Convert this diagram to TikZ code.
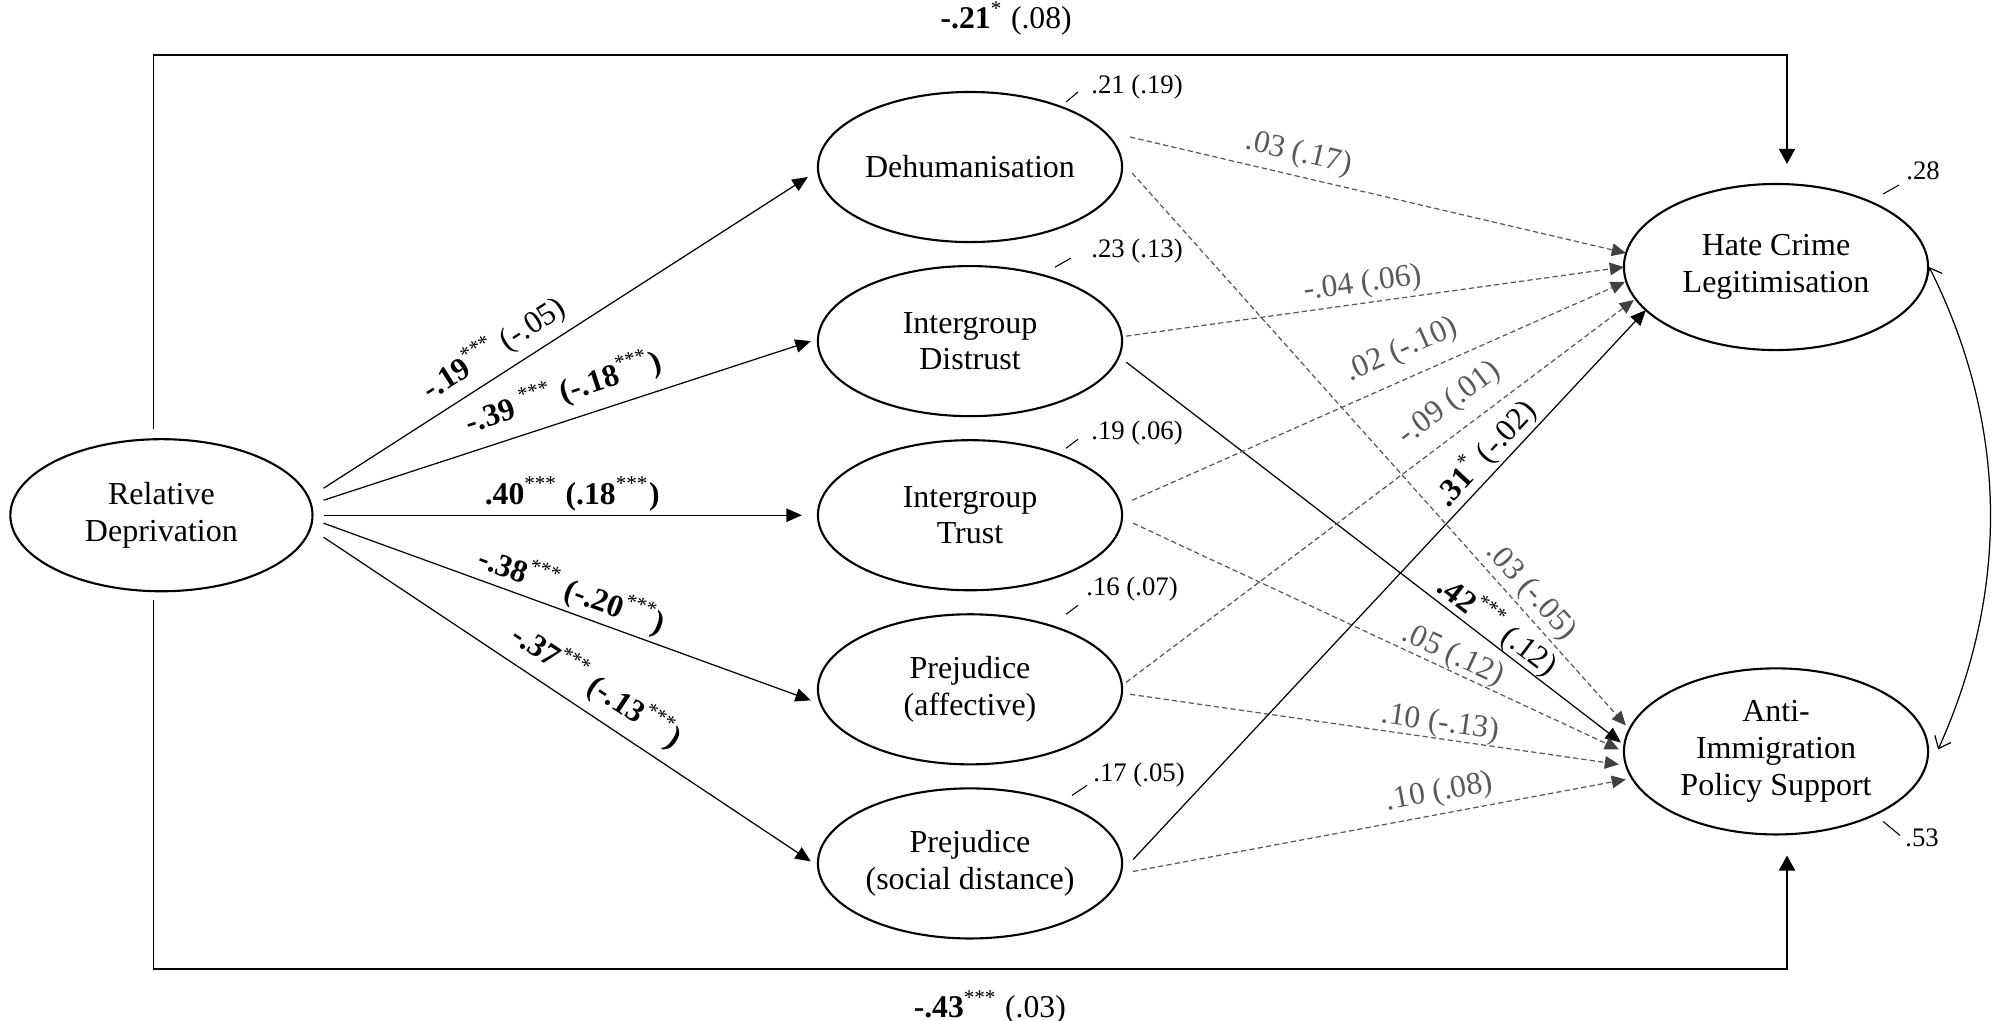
\documentclass[tikz,border=0pt]{standalone}
\usepackage{fontspec}
\setmainfont{Liberation Serif}
\usetikzlibrary{positioning, arrows.meta, shapes.geometric}
\definecolor{nsgray}{HTML}{595959}
\definecolor{nshead}{HTML}{404040}
\newcommand{\stars}[1]{\textsuperscript{#1}}

\begin{document}
\begin{tikzpicture}[x=0.01cm, y=-0.01cm, node distance={17.4mm},
    latent/.style = {draw, ellipse, line width=0.6pt, inner sep=0pt, align=center, minimum width=30.4mm, minimum height=15mm, font=\fontsize{9.1}{10.4}\selectfont},
    outcome/.style = {latent, minimum width=30.4mm, minimum height=16.6mm},
    coef/.style = {inner sep=0pt, font=\fontsize{9}{10}\selectfont},
    gcoef/.style = {coef, text=nsgray},
    r2/.style = {inner sep=0pt, font=\fontsize{7.6}{9}\selectfont},
    tick/.style = {line width=0.3pt},
    effect/.style = {line width=0.35pt, -{Triangle[length=4.4pt, width=3.8pt]}},
    nseffect/.style = {line width=0.35pt, nsgray, dash pattern=on 1.5pt off 0.9pt, -{Triangle[length=4pt, width=3.6pt, color=nshead]}},
    direct/.style = {line width=0.5pt, -{Triangle[length=4.3pt, width=4.6pt]}}]
            \useasboundingbox (0,0) rectangle (1994,1020);

            \node[latent] (dehum) at (970,167) {Dehumanisation};
            \node[latent] (distrust) [below of=dehum] {Intergroup\\Distrust};
            \node[latent] (trust) [below of=distrust] {Intergroup\\Trust};
            \node[latent] (prejaff) [below of=trust] {Prejudice\\(affective)};
            \node[latent] (prejsoc) [below of=prejaff] {Prejudice\\(social distance)};
            \node[latent, minimum width=30.2mm, minimum height=15.2mm] (rd) [left=50.3mm of trust] {Relative\\Deprivation};
            \node[outcome] (hate) at (1776,267) {Hate Crime\\Legitimisation};
            \node[outcome] (aips) [below=31.6mm of hate] {Anti-\\Immigration\\Policy Support};

            \node[r2] (dehumres) at ([shift={(167,-80)}]dehum.center) {.21 (.19)};
            \node[r2] (distrustres) at ([shift={(167,-90)}]distrust.center) {.23 (.13)};
            \node[r2] (trustres) at ([shift={(167,-82)}]trust.center) {.19 (.06)};
            \node[r2] (prejaffres) at ([shift={(162,-100)}]prejaff.center) {.16 (.07)};
            \node[r2] (prejsocres) at ([shift={(169,-88)}]prejsoc.center) {.17 (.05)};
            \node[r2] (hateres) at ([shift={(147,-96)}]hate.center) {.28};
            \node[r2] (aipsres) at ([shift={(146,86)}]aips.center) {.53};
            \draw[tick] ([shift={(96,-65)}]dehum.center) -- ++(12,-10);
            \draw[tick] ([shift={(85,-74)}]distrust.center) -- ++(16,-9);
            \draw[tick] ([shift={(96,-67)}]trust.center) -- ++(12,-9);
            \draw[tick] ([shift={(96,-75)}]prejaff.center) -- ++(12,-9);
            \draw[tick] ([shift={(102,-68)}]prejsoc.center) -- ++(15,-10);
            \draw[tick] ([shift={(107,-73)}]hate.center) -- ++(16,-9);
            \draw[tick] ([shift={(107,70)}]aips.center) -- ++(17,14);

            \draw[effect] ([shift={(10,-27)}]rd.east) -- node[coef, sloped, above=2.3pt, pos=0.38] {\textbf{-.19}\stars{***}\ (-.05)} ([shift={(-9,10)}]dehum.west);
            \draw[effect] ([shift={(10,-15)}]rd.east) -- node[coef, sloped, above=3.1pt, pos=0.51] {\textbf{-.39}\ \stars{***} \textbf{(-.18}\stars{***}\textbf{)}} ([shift={(-6,0)}]distrust.west);
            \draw[effect] ([shift={(10,0)}]rd.east) -- node[coef, above=1.1pt, pos=0.52] {\textbf{.40}\stars{***} \textbf{(.18}\stars{***}\textbf{)}} ([shift={(-15,0)}]trust.west);
            \draw[effect] ([shift={(10,8)}]rd.east) -- node[coef, sloped, above=1.1pt, pos=0.495] {\textbf{-.38}\stars{***} \textbf{(-.20}\stars{***}\textbf{)}} ([shift={(-6,11)}]prejaff.west);
            \draw[effect] ([shift={(10,22)}]rd.east) -- node[coef, sloped, above=2.8pt, pos=0.53] {\textbf{-.37}\stars{***} \textbf{(-.13}\stars{***}\textbf{)}} ([shift={(-6,-2)}]prejsoc.west);

            \draw[nseffect] ([shift={(7,-30)}]dehum.east) -- node[gcoef, sloped, above=2pt, pos=0.33] {.03 (.17)} ([shift={(3,-14)}]hate.west);
            \draw[nseffect] ([shift={(9,6)}]dehum.east) -- node[gcoef, sloped, above=0.9pt, pos=0.78] {.03 (-.05)} ([shift={(3,-26)}]aips.west);
            \draw[nseffect] ([shift={(3,-5)}]distrust.east) -- node[gcoef, sloped, above=1.1pt, pos=0.48] {-.04 (.06)} ([shift={(1,0)}]hate.west);
            \draw[effect] ([shift={(3,21)}]distrust.east) -- node[coef, sloped, above=0pt, pos=0.73] {\textbf{.42}\stars{***} (.12)} ([shift={(-2,-9)}]aips.west);
            \draw[nseffect] ([shift={(9,-15)}]trust.east) -- node[gcoef, sloped, above=3.6pt, pos=0.57] {.02 (-.10)} ([shift={(2,15)}]hate.west);
            \draw[nseffect] ([shift={(10,8)}]trust.east) -- node[gcoef, sloped, above=0pt, pos=0.645] {.05 (.12)} ([shift={(-4,-2)}]aips.west);
            \draw[nseffect] ([shift={(3,-7)}]prejaff.east) -- node[gcoef, sloped, above=3.7pt, pos=0.67] {-.09 (.01)} ([shift={(11,33)}]hate.west);
            \draw[nseffect] ([shift={(7,5)}]prejaff.east) -- node[gcoef, sloped, above=0pt, pos=0.63] {.10 (-.13)} ([shift={(-4,13)}]aips.west);
            \draw[effect] ([shift={(10,-4)}]prejsoc.east) -- node[coef, sloped, above=0.6pt, pos=0.715] {\textbf{.31}\stars{*} (-.02)} ([shift={(23,43)}]hate.west);
            \draw[nseffect] ([shift={(10,8)}]prejsoc.east) -- node[gcoef, sloped, above=1.7pt, pos=0.63] {.10 (.08)} ([shift={(3,28)}]aips.west);

            \draw[direct] ([shift={(-8,-9)}]rd.north) -- ++(0,-374) -| node[coef, above=5.4pt, pos=0.261] {\textbf{-.21}\stars{*} (.08)} ([shift={(11,-19)}]hate.north);
            \draw[direct] ([shift={(-8,8)}]rd.south) -- ++(0,369) -| node[coef, below=5.7pt, pos=0.256] {\textbf{-.43}\stars{***} (.03)} ([shift={(11,20)}]aips.south);
            \draw[line width=0.35pt, {Straight Barb[length=3pt, width=5pt]}-{Straight Barb[length=3pt, width=5pt]}] (hate.east) .. controls ([shift={(80,160)}]hate.east) and ([shift={(80,-160)}]aips.east) .. ([shift={(9,-2)}]aips.east);
        \end{tikzpicture}
\end{document}
